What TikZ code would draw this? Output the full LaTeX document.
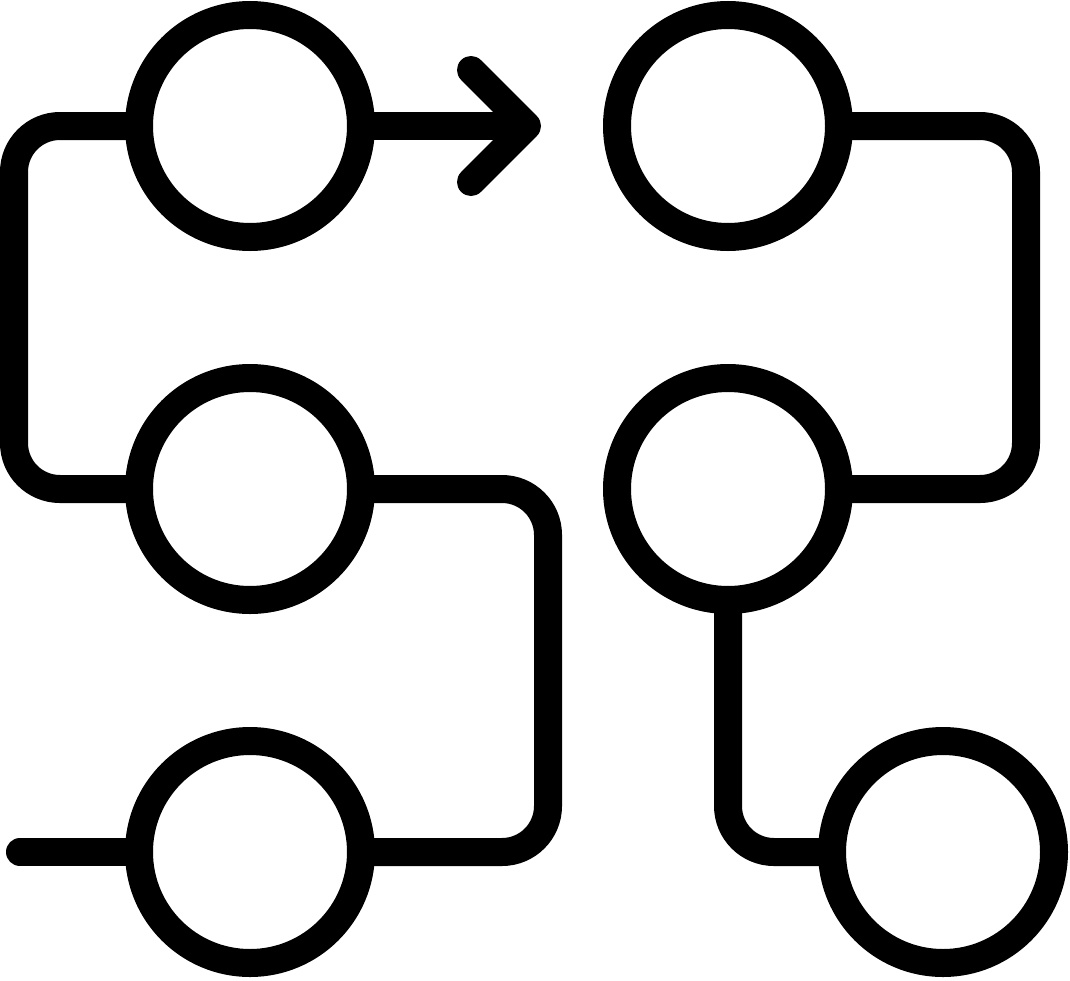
\documentclass[tikz,border=0pt]{standalone}
\begin{document}
\begin{tikzpicture}[x=1pt,y=-1pt,
  stop/.style={circle,draw=black,line width=28pt,minimum size=222pt,inner sep=0pt,outer sep=0pt},
  conn/.style={draw=black,line width=28pt,rounded corners=46pt},
  freeend/.style={draw=black,line width=28pt,line cap=round,line join=round}]
\useasboundingbox (0,0) rectangle (1070,980);
\node[stop] (A) at (250,126) {};
\node[stop] (B) at (250,489) {};
\node[stop] (C) at (250,852) {};
\node[stop] (D) at (728,126) {};
\node[stop] (E) at (728,489) {};
\node[stop] (F) at (943,852) {};
\coordinate (L1) at (14,126);
\coordinate (L2) at (14,489);
\coordinate (M1) at (548,489);
\coordinate (M2) at (548,852);
\coordinate (R1) at (1026,126);
\coordinate (R2) at (1026,489);
\coordinate (S1) at (728,852);
\coordinate (start) at (20,852);
\coordinate (tip) at (527,126);
\coordinate (hu) at (471,70);
\coordinate (hd) at (471,182);
\draw[conn] (A.west) -- (L1) -- (L2) -- (B.west);
\draw[conn] (B.east) -- (M1) -- (M2) -- (C.east);
\draw[conn] (D.east) -- (R1) -- (R2) -- (E.east);
\draw[conn] (E.south) -- (S1) -- (F.west);
\draw[freeend] (start) -- (C.west);
\draw[conn] (A.east) -- (tip);
\draw[freeend] (hu) -- (tip) -- (hd);
\end{tikzpicture}
\end{document}
